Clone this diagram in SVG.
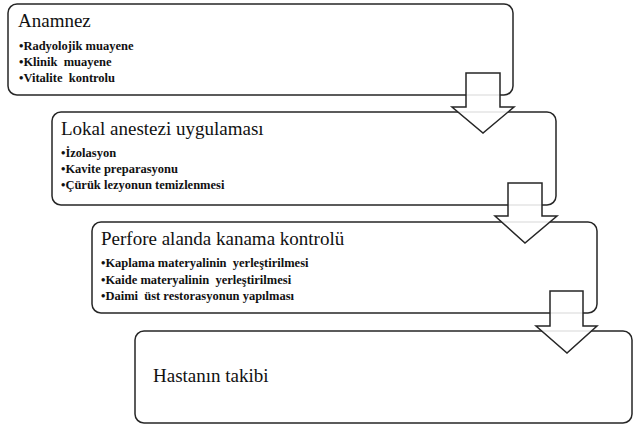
<svg xmlns="http://www.w3.org/2000/svg" width="634" height="425" viewBox="0 0 634 425">
<style>
.box{fill:#fff;stroke:#262626;stroke-width:1.5}
.arr{fill:#fff;fill-opacity:0.88;stroke:#262626;stroke-width:1.5;stroke-linejoin:miter}
text{font-family:"Liberation Serif",serif !important}
.t{font-size:19px;fill:#111}
.b{font-size:12.5px;font-weight:bold;fill:#111}
</style>
<rect width="634" height="425" fill="#fff"/>
<g id="node1">
<rect class="box" x="8" y="4" width="505" height="91" rx="9"/>
<text class="t" x="18" y="27" style="font-family:'Liberation Serif',serif !important">Anamnez</text>
<text class="b" x="19" y="50" style="font-family:'Liberation Serif',serif !important">•Radyolojik muayene</text>
<text class="b" x="19" y="66" style="font-family:'Liberation Serif',serif !important" xml:space="preserve">•Klinik  muayene</text>
<text class="b" x="19" y="82" style="font-family:'Liberation Serif',serif !important" xml:space="preserve">•Vitalite  kontrolu</text>
</g>
<g id="node2">
<rect class="box" x="52" y="112" width="504" height="93" rx="9"/>
<text class="t" x="61" y="135" style="font-family:'Liberation Serif',serif !important">Lokal anestezi uygulaması</text>
<text class="b" x="61" y="157" style="font-family:'Liberation Serif',serif !important">•İzolasyon</text>
<text class="b" x="61" y="173" style="font-family:'Liberation Serif',serif !important">•Kavite preparasyonu</text>
<text class="b" x="61" y="189" style="font-family:'Liberation Serif',serif !important">•Çürük lezyonun temizlenmesi</text>
</g>
<g id="node3">
<rect class="box" x="92" y="222" width="505" height="91" rx="9"/>
<text class="t" x="101" y="245" style="font-family:'Liberation Serif',serif !important">Perfore alanda kanama kontrolü</text>
<text class="b" x="101" y="267" style="font-family:'Liberation Serif',serif !important" xml:space="preserve">•Kaplama materyalinin  yerleştirilmesi</text>
<text class="b" x="101" y="284" style="font-family:'Liberation Serif',serif !important" xml:space="preserve">•Kaide materyalinin  yerleştirilmesi</text>
<text class="b" x="101" y="300" style="font-family:'Liberation Serif',serif !important" xml:space="preserve">•Daimi  üst restorasyonun yapılması</text>
</g>
<g id="node4">
<rect class="box" x="135" y="331" width="497" height="92" rx="9"/>
<text class="t" x="153" y="382" style="font-family:'Liberation Serif',serif !important">Hastanın takibi</text>
</g>
<g id="connectors">
<path class="arr" d="M466,73 H500 V107 H514 L483,133 L452,107 H466 Z"/>
<path class="arr" d="M508,183 H542 V216 H557 L525,243 L495,216 H508 Z"/>
<path class="arr" d="M550,291 H583 V326 H597 L567,353 L536,326 H550 Z"/>
</g>
</svg>
